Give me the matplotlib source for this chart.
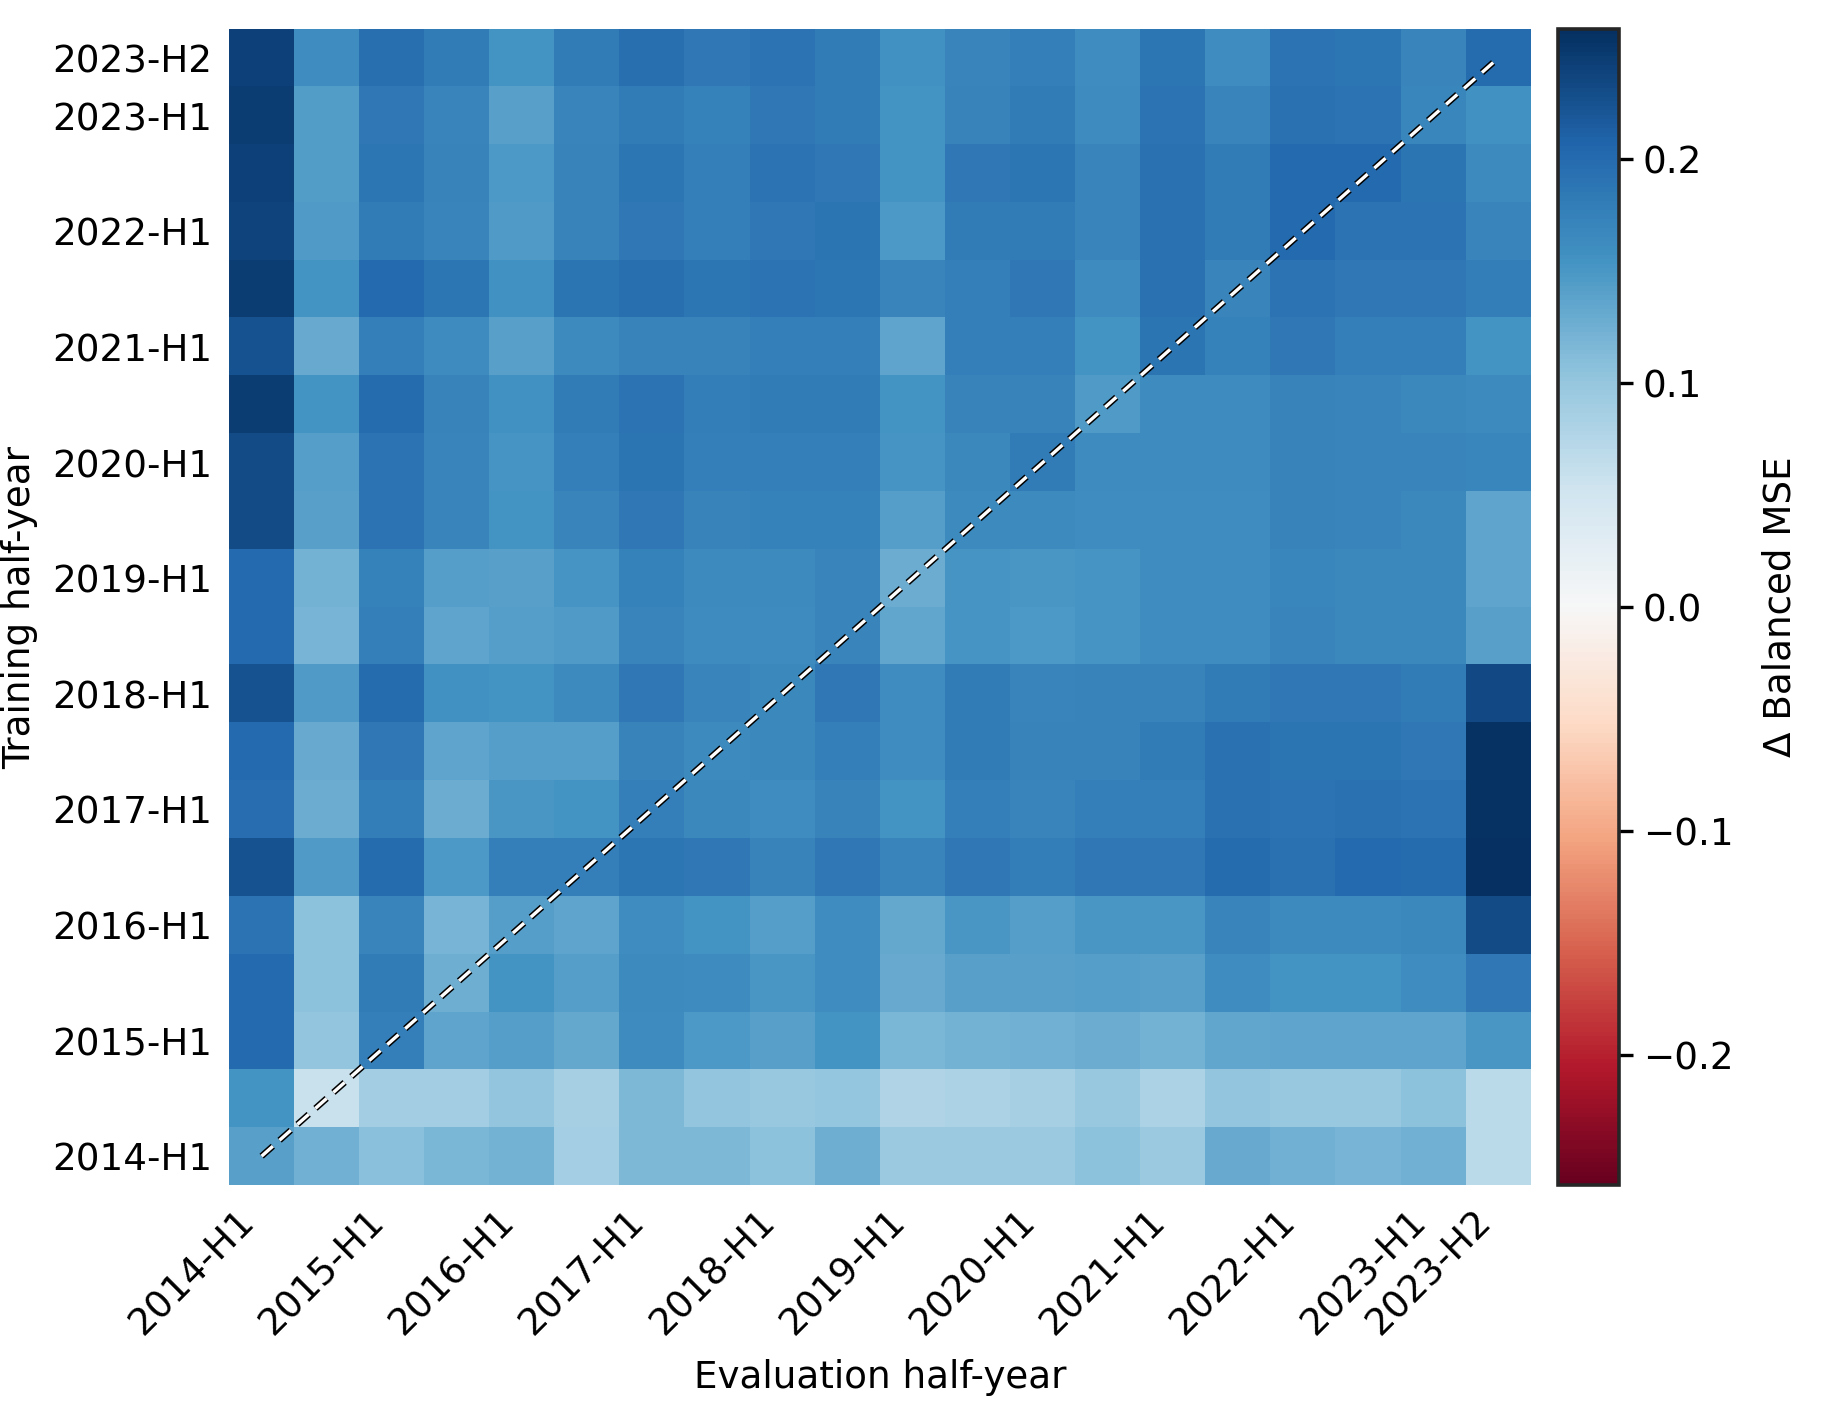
import numpy as np
import matplotlib
matplotlib.use("Agg")
import matplotlib.pyplot as plt
import matplotlib.patheffects as pe

# half-year periods (evaluation = columns, training = rows)
periods = [f"{y}-H{h}" for y in range(2014, 2024) for h in (1, 2)]

# Δ balanced MSE, one list per training half-year (bottom row first)
tr_2014_h1 = [0.140, 0.123, 0.108, 0.117, 0.122, 0.088, 0.115, 0.115, 0.105, 0.125,
              0.095, 0.095, 0.096, 0.105, 0.096, 0.130, 0.123, 0.120, 0.123, 0.070]
tr_2014_h2 = [0.155, 0.058, 0.090, 0.090, 0.102, 0.085, 0.115, 0.102, 0.098, 0.100,
              0.078, 0.082, 0.085, 0.098, 0.082, 0.102, 0.098, 0.098, 0.105, 0.070]
tr_2015_h1 = [0.200, 0.102, 0.176, 0.137, 0.142, 0.132, 0.162, 0.148, 0.140, 0.155,
              0.117, 0.122, 0.124, 0.128, 0.122, 0.135, 0.137, 0.136, 0.137, 0.150]
tr_2015_h2 = [0.200, 0.105, 0.180, 0.125, 0.154, 0.142, 0.165, 0.162, 0.150, 0.160,
              0.130, 0.140, 0.140, 0.142, 0.140, 0.160, 0.155, 0.155, 0.160, 0.185]
tr_2016_h1 = [0.190, 0.105, 0.170, 0.120, 0.142, 0.136, 0.160, 0.155, 0.143, 0.160,
              0.133, 0.150, 0.143, 0.150, 0.150, 0.170, 0.165, 0.165, 0.167, 0.230]
tr_2016_h2 = [0.225, 0.147, 0.198, 0.148, 0.176, 0.176, 0.187, 0.185, 0.172, 0.185,
              0.170, 0.185, 0.178, 0.184, 0.184, 0.198, 0.193, 0.200, 0.198, 0.258]
tr_2017_h1 = [0.196, 0.127, 0.178, 0.127, 0.150, 0.154, 0.176, 0.167, 0.160, 0.172,
              0.154, 0.176, 0.170, 0.176, 0.176, 0.192, 0.190, 0.193, 0.190, 0.255]
tr_2017_h2 = [0.200, 0.130, 0.185, 0.136, 0.142, 0.142, 0.172, 0.165, 0.167, 0.176,
              0.160, 0.180, 0.173, 0.173, 0.180, 0.192, 0.188, 0.188, 0.185, 0.255]
tr_2018_h1 = [0.225, 0.146, 0.198, 0.157, 0.154, 0.165, 0.185, 0.170, 0.166, 0.184,
              0.160, 0.180, 0.170, 0.172, 0.172, 0.180, 0.184, 0.184, 0.180, 0.232]
tr_2018_h2 = [0.200, 0.120, 0.176, 0.137, 0.142, 0.146, 0.170, 0.162, 0.162, 0.170,
              0.135, 0.152, 0.148, 0.153, 0.160, 0.160, 0.170, 0.166, 0.166, 0.141]
tr_2019_h1 = [0.200, 0.122, 0.175, 0.142, 0.140, 0.152, 0.175, 0.165, 0.164, 0.170,
              0.127, 0.153, 0.150, 0.153, 0.160, 0.160, 0.168, 0.167, 0.166, 0.137]
tr_2019_h2 = [0.230, 0.140, 0.190, 0.170, 0.155, 0.170, 0.184, 0.172, 0.175, 0.175,
              0.142, 0.164, 0.164, 0.160, 0.160, 0.160, 0.172, 0.170, 0.167, 0.137]
tr_2020_h1 = [0.230, 0.142, 0.190, 0.170, 0.153, 0.176, 0.188, 0.177, 0.177, 0.177,
              0.153, 0.166, 0.180, 0.162, 0.162, 0.162, 0.172, 0.170, 0.170, 0.168]
tr_2020_h2 = [0.245, 0.155, 0.198, 0.172, 0.157, 0.180, 0.190, 0.178, 0.180, 0.180,
              0.154, 0.172, 0.172, 0.146, 0.162, 0.162, 0.172, 0.170, 0.166, 0.164]
tr_2021_h1 = [0.225, 0.130, 0.176, 0.163, 0.140, 0.165, 0.172, 0.172, 0.177, 0.177,
              0.137, 0.176, 0.176, 0.155, 0.188, 0.175, 0.184, 0.177, 0.177, 0.155]
tr_2021_h2 = [0.244, 0.155, 0.200, 0.187, 0.156, 0.188, 0.195, 0.187, 0.190, 0.187,
              0.170, 0.176, 0.184, 0.162, 0.192, 0.170, 0.190, 0.184, 0.184, 0.179]
tr_2022_h1 = [0.238, 0.146, 0.180, 0.170, 0.146, 0.172, 0.184, 0.176, 0.184, 0.188,
              0.148, 0.181, 0.180, 0.170, 0.192, 0.180, 0.200, 0.190, 0.190, 0.170]
tr_2022_h2 = [0.240, 0.145, 0.187, 0.172, 0.148, 0.172, 0.187, 0.177, 0.190, 0.185,
              0.154, 0.184, 0.187, 0.170, 0.192, 0.180, 0.200, 0.200, 0.188, 0.165]
tr_2023_h1 = [0.245, 0.145, 0.185, 0.170, 0.140, 0.170, 0.180, 0.175, 0.185, 0.180,
              0.154, 0.172, 0.180, 0.162, 0.190, 0.170, 0.192, 0.190, 0.168, 0.157]
tr_2023_h2 = [0.240, 0.160, 0.195, 0.180, 0.155, 0.180, 0.195, 0.185, 0.190, 0.180,
              0.157, 0.170, 0.176, 0.160, 0.186, 0.160, 0.190, 0.187, 0.170, 0.198]

data = np.array([
    tr_2014_h1, tr_2014_h2, tr_2015_h1, tr_2015_h2, tr_2016_h1, tr_2016_h2,
    tr_2017_h1, tr_2017_h2, tr_2018_h1, tr_2018_h2, tr_2019_h1, tr_2019_h2,
    tr_2020_h1, tr_2020_h2, tr_2021_h1, tr_2021_h2, tr_2022_h1, tr_2022_h2,
    tr_2023_h1, tr_2023_h2,
])

# only the H1 periods plus the last one get a label
tick_idx = [i for i, p in enumerate(periods) if p.endswith("H1")] + [len(periods) - 1]
tick_lbl = [periods[i] for i in tick_idx]

FS = 13.4
vmax = np.abs(data).max()

fig = plt.figure(figsize=(9.105, 7.12), dpi=200)
ax = fig.add_axes([0.1258, 0.1678, 0.7149, 0.8118])
cax = fig.add_axes([0.8556, 0.1678, 0.0335, 0.8118])

im = ax.imshow(data, cmap="RdBu", vmin=-vmax, vmax=vmax, origin="lower",
               aspect="auto", interpolation="nearest")

# diagonal: train == eval
n = len(periods)
ax.plot(range(n), range(n), color="white", lw=1.2, dashes=(4.5, 2.7),
        path_effects=[pe.withStroke(linewidth=2.3, foreground="black")])

ax.set_xticks(tick_idx)
ax.set_xticklabels(tick_lbl, rotation=45, ha="right", fontsize=FS)
ax.set_yticks(tick_idx)
ax.set_yticklabels(tick_lbl, fontsize=FS)
ax.tick_params(axis="x", length=0, pad=6.3)
ax.tick_params(axis="y", length=0, pad=6)
for s in ax.spines.values():
    s.set_visible(False)
ax.set_xlabel("Evaluation half-year", fontsize=FS, labelpad=6)
ax.set_ylabel("Training half-year", fontsize=FS, labelpad=5)

cb = fig.colorbar(im, cax=cax, ticks=[-0.2, -0.1, 0.0, 0.1, 0.2])
cb.outline.set_linewidth(1.3)
cb.outline.set_edgecolor("#262626")
cb.ax.tick_params(labelsize=FS, length=5, width=1.2)
cb.set_label("Δ Balanced MSE", fontsize=FS, labelpad=10)

fig.savefig("out.png", dpi=200, facecolor="white")
